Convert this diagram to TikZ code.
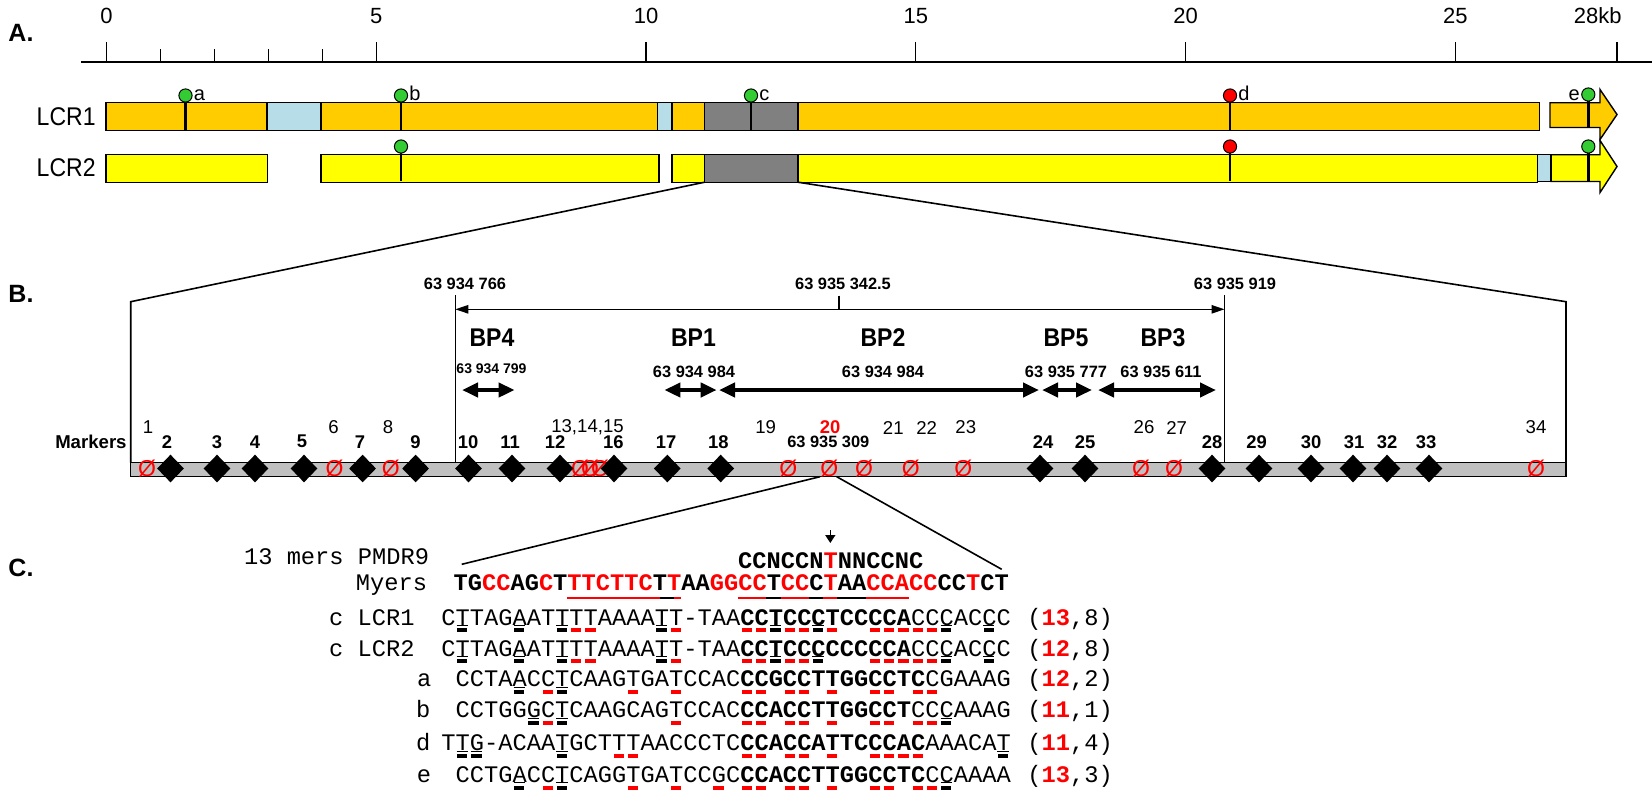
\documentclass[tikz,border=0pt]{standalone}
\usepackage{fontspec}
\setmainfont{Liberation Sans}
\newfontfamily\narrowsans[FakeStretch=0.9]{Liberation Sans}
\newfontfamily\seqfont{Liberation Mono}
\usetikzlibrary{shapes.geometric,arrows.meta}

\definecolor{lcrorange}{RGB}{255,204,0}
\definecolor{lcryellow}{RGB}{255,255,0}
\definecolor{lcrblue}{RGB}{183,222,232}
\definecolor{lcrgrey}{RGB}{128,128,128}
\definecolor{bargrey}{RGB}{192,192,192}
\definecolor{pingreen}{RGB}{51,204,51}

\tikzset{
  seg/.style={draw=black, line width=0.7pt},
  stick/.style={line width=1.3pt},
  ball/.style={draw=black, line width=0.5pt},
  panel/.style={font=\bfseries\fontsize{12.5}{14}\selectfont, inner sep=0pt},
  scalelab/.style={font=\fontsize{11}{12}\selectfont, inner sep=0pt},
  lcrlab/.style={font=\narrowsans\fontsize{12.8}{14}\selectfont, anchor=east, inner sep=0pt},
  pinlab/.style={font=\fontsize{10}{12}\selectfont, inner sep=0pt},
  poslab/.style={font=\bfseries\fontsize{8.2}{10}\selectfont, inner sep=0pt},
  bplab/.style={font=\narrowsans\bfseries\fontsize{12.8}{14}\selectfont, inner sep=0pt},
  bparrow/.style={line width=2pt, {Triangle[length=8pt,width=7pt]}-{Triangle[length=8pt,width=7pt]}},
  mkbold/.style={font=\bfseries\fontsize{9.2}{10}\selectfont, inner sep=0pt},
  mkreg/.style={font=\fontsize{9.3}{10}\selectfont, inner sep=0pt},
  present/.style={diamond, fill=black, inner sep=0pt, minimum width=13.5pt, minimum height=14pt},
  absent/.style={text=red, font=\fontsize{11.5}{12}\selectfont, inner sep=0pt},
  seq/.style={font=\seqfont\fontsize{11.86}{14}\selectfont, inner sep=0pt, anchor=base west},
  seqbold/.style={seq, font=\seqfont\bfseries\fontsize{11.86}{14}\selectfont},
}

\begin{document}
\begin{tikzpicture}[x=0.5pt,y=-0.5pt]
\useasboundingbox (0,0) rectangle (1652,800);

% A. kb scale
\node[panel] (A) at (21,33) {A.};
\draw[line width=1pt] (81,61.7) -- (1652,61.7);
\foreach \k in {0,5,...,25} {
  \draw[line width=0.7pt] ({106.5+53.95*\k},61.7) -- ++(0,-20);
  \node[scalelab] (kb\k) at ({106.5+53.95*\k},16) {\k};
}
\draw[line width=0.7pt] (1617.1,61.7) -- ++(0,-20);
\node[scalelab, anchor=east] (kb28) at (1622,16) {28kb};
\foreach \k in {1,...,4}
  \draw[line width=0.7pt] ({106.5+53.95*\k},61.7) -- ++(0,-13);

% LCR1
\foreach \xa/\xb/\clr in {106/267/lcrorange, 267/321/lcrblue, 321/657.5/lcrorange, 657.5/672/lcrblue, 672/704.6/lcrorange, 704.6/798/lcrgrey, 798/1539.3/lcrorange}
  \filldraw[seg, fill=\clr] (\xa,102.7) rectangle (\xb,130.7);
\filldraw[seg, fill=lcrorange] (1550,102.7) -- (1600,102.7) -- (1600,89.5) -- (1617,114.5) -- (1600,139.5) -- (1600,127.5) -- (1550,127.5) -- cycle;
\node[lcrlab] (lcr1) at (96,116.5) {LCR1};

% LCR2
\foreach \xa/\xb/\clr in {106/267.7/lcryellow, 321/659/lcryellow, 672/704.6/lcryellow, 704.6/798/lcrgrey, 798/1537.3/lcryellow}
  \filldraw[seg, fill=\clr] (\xa,154.7) rectangle (\xb,182.2);
\filldraw[seg, fill=lcryellow] (1551,154.7) -- (1600,154.7) -- (1600,140.5) -- (1617,166.5) -- (1600,192.5) -- (1600,181.5) -- (1551,181.5) -- cycle;
\filldraw[seg, fill=lcrblue] (1537.3,154.7) rectangle (1551,181.5);
\node[lcrlab] (lcr2) at (96,168) {LCR2};

% the five sites a-e
\foreach \x/\clr/\l in {185.5/pingreen/a, 401/pingreen/b, 751/pingreen/c, 1230/red/d} {
  \draw[stick] (\x,100) -- (\x,130);
  \filldraw[ball, fill=\clr] (\x,95.5) circle[radius=3.3pt];
  \node[pinlab, anchor=base west] (s\l) at ({\x+8},100.5) {\l};
}
\draw[stick] (1588.3,100) -- (1588.3,128);
\filldraw[ball, fill=pingreen] (1588.3,94.5) circle[radius=3.3pt];
\node[pinlab, anchor=base east] (se) at (1580,100.5) {e};
\foreach \x/\clr in {401/pingreen, 1230/red, 1588.3/pingreen} {
  \draw[stick] (\x,151) -- (\x,181);
  \filldraw[ball, fill=\clr] (\x,146.5) circle[radius=3.3pt];
}

% B. zoom on the grey box
\node[panel] (B) at (21,294) {B.};
\coordinate (g2l) at (704.6,182.2);
\coordinate (g2r) at (798,182.2);
\coordinate (bl) at (130.7,301.7);
\coordinate (br) at (1566,301.7);
\draw[line width=0.8pt] (g2l) -- (bl) -- (130.7,462.7);
\draw[line width=0.8pt] (g2r) -- (br) -- (1566,462.7);
\draw[line width=0.7pt] (455.3,295) -- (455.3,462.7);
\draw[line width=0.7pt] (1224.5,295) -- (1224.5,462.7);
\draw[line width=0.7pt, {Triangle[length=6.5pt,width=4.2pt]}-{Triangle[length=6.5pt,width=4.2pt]}] (455.3,309.3) -- (1224.5,309.3);
\draw[line width=0.7pt] (839,295.7) -- (839,309.3);
\node[poslab] (p766) at (465,284) {63 934 766};
\node[poslab] (p342) at (843,284) {63 935 342.5};
\node[poslab] (p919) at (1235,284) {63 935 919};

\foreach \x/\t in {492/BP4, 693.5/BP1, 883/BP2, 1066/BP5, 1163/BP3}
  \node[bplab] (\t) at (\x,338) {\t};
\node[poslab, font=\bfseries\fontsize{7}{8}\selectfont] (c799) at (491.5,369) {63 934 799};
\foreach \x/\t/\n in {694/63 934 984/c984a, 883/63 934 984/c984b, 1066/63 935 777/c777, 1161/63 935 611/c611}
  \node[poslab] (\n) at (\x,371.7) {\t};
\draw[bparrow] (462,390) -- (514.6,390);
\draw[bparrow] (664.4,390) -- (716.7,390);
\draw[bparrow] (719,390) -- (1039,390);
\draw[bparrow] (1042,390) -- (1092,390);
\draw[bparrow] (1098,390) -- (1216,390);

% markers
\node[mkbold, font=\bfseries\fontsize{9.3}{10}\selectfont, anchor=east] (markers) at (127,441.7) {Markers};
\filldraw[fill=bargrey, line width=0.7pt] (130.7,462.7) rectangle (1566,476.7);
\foreach \n/\x in {1/147, 6/334.6, 8/390.7, 13/580, 14/590, 15/600, 19/788.3, 20/829.3, 21/864, 22/910.7, 23/963.3, 26/1141, 27/1174, 34/1536}
  \node[absent] (m\n) at (\x,468.5) {Ø};
\foreach \n/\x in {2/170.5, 3/217, 4/255, 5/304, 7/362.6, 9/415.6, 10/468.5, 11/512, 12/560, 16/614, 17/667.3, 18/720.7, 24/1040, 25/1085, 28/1212, 29/1259, 30/1311, 31/1353, 32/1387, 33/1429}
  \node[present] (m\n) at (\x,468.5) {};
\foreach \n/\x in {2/167, 3/217, 4/255, 5/302, 7/360, 9/415.6, 10/468, 11/510, 12/555, 16/613.3, 17/666, 18/718.3, 24/1043, 25/1085, 28/1212, 29/1256.5, 30/1311, 31/1354, 32/1387, 33/1426}
  \node[mkbold] (l\n) at (\x,441.7) {\n};
\foreach \n/\x in {1/148, 6/333.5, 8/388, 19/765.7, 21/893.3, 22/926.7, 23/965.8, 26/1144, 27/1176.6, 34/1536}
  \node[mkreg] (l\n) at (\x,427.5) {\n};
\node[mkreg] (l13) at (587.5,427.5) {13,14,15};
\node[mkbold, text=red] (l20) at (830,426.7) {20};
\node[mkbold, font=\bfseries\fontsize{8.2}{10}\selectfont] (l20pos) at (828.3,441.7) {63 935 309};

% C. marker 20 opened up
\coordinate (c20l) at (820,476.7);
\coordinate (c20r) at (836.7,476.7);
\coordinate (myl) at (461.7,564.3);
\coordinate (myr) at (1001.7,569.3);
\draw[line width=0.8pt] (c20l) -- (myl);
\draw[line width=0.8pt] (c20r) -- (myr);
\node[panel] (C) at (21,568) {C.};

\node[seq, anchor=base east] (lpmdr) at (429.5,564) {13 mers PMDR9};
\node[seq, anchor=base east] (lmyers) at (427.5,590.7) {Myers};
\node[seq, anchor=base east] (llcr1) at (415,625) {c LCR1};
\node[seq, anchor=base east] (llcr2) at (415,656) {c LCR2};
\foreach \l/\x/\yb in {a/424.2/686.7, b/423.3/717.7, d/423.3/750.7, e/424/782.3}
  \node[seq, anchor=base] (l\l) at (\x,\yb) {\l};

\node[seqbold] (motif) at (737.8,568.3) {CCNCCN\textcolor{red}{T}NNCCNC};
\draw[line width=0.7pt, -{Triangle[length=4pt,width=5pt]}] (830.3,530) -- (830.3,543);
\node[seqbold] (myers) at (453.2,590.7) {TG\textcolor{red}{CC}AG\textcolor{red}{C}T\textcolor{red}{TTCTTC}T\textcolor{red}{T}AA\textcolor{red}{GGCC}T\textcolor{red}{CC}C\textcolor{red}{T}AA\textcolor{red}{CCACC}CC\textcolor{red}{T}CT};
\foreach \xa/\xb/\clr in {567/659.5/red, 659.5/674/black, 674/681/red, 737.8/766.3/red, 766.3/780.5/black, 780.5/809/red, 809/823.2/black, 823.2/837.4/red, 837.4/865.9/black, 865.9/908.6/red}
  \draw[\clr, line width=1pt] (\xa,597.7) -- (\xb,597.7);

\node[seq] (rlcr1) at (441,625) {CTTAGAATTTTAAAATT-TAA\textbf{CCTCCCTCCCCA}CCCACCC};
\node[seq] (rlcr2) at (441,656) {CTTAGAATTTTAAAATT-TAA\textbf{CCTCCCCCCCCA}CCCACCC};
\node[seq] (ra) at (455.2,686.7) {CCTAACCTCAAGTGATCCAC\textbf{CCGCCTTGGCCTC}CGAAAG};
\node[seq] (rb) at (455.2,717.7) {CCTGGGCTCAAGCAGTCCAC\textbf{CCACCTTGGCCT}CCCAAAG};
\node[seq] (rd) at (441,750.7) {TTG-ACAATGCTTTAACCCTC\textbf{CCACCATTCCCAC}AAACAT};
\node[seq] (re) at (455.2,782.3) {CCTGACCTCAGGTGATCCGC\textbf{CCACCTTGGCCTC}CCAAAA};

\node[seq] (nlcr1) at (1027,625) {(\textcolor{red}{\textbf{13}},8)};
\node[seq] (nlcr2) at (1027,656) {(\textcolor{red}{\textbf{12}},8)};
\node[seq] (na) at (1027,686.7) {(\textcolor{red}{\textbf{12}},2)};
\node[seq] (nb) at (1027,717.7) {(\textcolor{red}{\textbf{11}},1)};
\node[seq] (nd) at (1027,750.7) {(\textcolor{red}{\textbf{11}},4)};
\node[seq] (ne) at (1027,782.3) {(\textcolor{red}{\textbf{13}},3)};

% red: matching, black: mismatching (underlined)
\foreach \yb/\cols in {625/{9,10,16,21,22,24,25,27,30,31,32,33,34}, 656/{9,10,16,21,22,24,25,30,31,32,33,34}, 686.7/{7,13,16,21,22,24,25,27,30,31,33,34}, 717.7/{7,16,21,22,24,25,27,30,31,33,34}, 750.7/{12,13,21,22,24,25,27,30,31,32,33}, 782.3/{7,13,16,19,21,22,24,25,27,30,31,33,34}}
  \foreach \i in \cols
    \fill[red] ({441+14.23*\i+2},{\yb+3.2}) rectangle ++(10.2,4);
\foreach \yb/\cols in {625/{1,5,8,15,23,26,35,38}, 656/{1,5,8,15,23,26,35,38}, 686.7/{5,8}, 717.7/{6,8,35}, 750.7/{1,2,8,39}, 782.3/{5,8,35}}
  \foreach \i in \cols {
    \fill[black] ({441+14.23*\i+2},{\yb+3.2}) rectangle ++(10.2,4);
    \draw[line width=0.4pt] ({441+14.23*\i+1.5},{\yb+0.3}) -- ++(11.2,0);
  }
\end{tikzpicture}
\end{document}
